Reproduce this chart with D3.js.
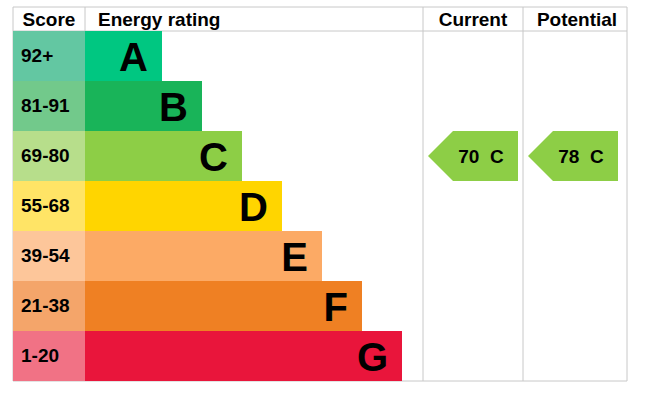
<!DOCTYPE html><html><head><script src="https://cdn.jsdelivr.net/npm/d3@7"></script>
<style>body{margin:0;background:#fff}</style></head><body><svg width="661" height="419"></svg>
<script>
const bands=["A","B","C","D","E","F","G"];
const scores=["92+","81-91","69-80","55-68","39-54","21-38","1-20"];
const barEnds=[1,2,3,4,5,6,7];
const colors=["#00c781","#19b459","#8dce46","#ffd500","#fcaa65","#ef8023","#e9153b"];
const light=["#63c7a2","#72c98b","#b7de8b","#ffe466","#fdc69a","#f4a56a","#f17285"];
const current={value:70,band:"C"}, potential={value:78,band:"C"};
const svg=d3.select("svg");
const y=d3.scaleBand().domain(bands).range([31,381]);
const x=d3.scaleLinear().domain([1,7]).range([162,402]);
const F="Liberation Sans, Arial, sans-serif";
const g="#c8c8c8";
[[13,7,627,7],[13,31,627,31],[13,381,627,381],[13,7,13,381],[85,7,85,31],[423,7,423,381],[523,7,523,381],[627,7,627,381]].forEach(l=>svg.append("line").attr("x1",l[0]).attr("y1",l[1]).attr("x2",l[2]).attr("y2",l[3]).attr("stroke",g).attr("stroke-width",1));
const hdr=[["Score",49],["Energy rating",162],["Current",473],["Potential",577]];
hdr.forEach((h,i)=>svg.append("text").attr("x",i==1?98:h[1]).attr("y",26).attr("text-anchor",i==1?"start":"middle").attr("font-family",F).attr("font-weight","bold").attr("font-size",19).text(h[0]));
bands.forEach((b,i)=>{
  svg.append("rect").attr("x",13).attr("y",y(b)).attr("width",72).attr("height",y.bandwidth()).attr("fill",light[i]);
  svg.append("rect").attr("x",85).attr("y",y(b)).attr("width",x(barEnds[i])-85).attr("height",y.bandwidth()).attr("fill",colors[i]);
  svg.append("text").attr("x",21).attr("y",y(b)+31).attr("font-family",F).attr("font-weight","bold").attr("font-size",19).text(scores[i]);
  svg.append("text").attr("x",x(barEnds[i])-14).attr("y",y(b)+40).attr("text-anchor","end").attr("font-family",F).attr("font-weight","bold").attr("font-size",40).text(b);
});
function arrow(d,x0){
  const t=y(d.band),h=y.bandwidth();
  svg.append("path").attr("d",`M${x0},${t+h/2}L${x0+25},${t}L${x0+90},${t}L${x0+90},${t+h}L${x0+25},${t+h}Z`).attr("fill",colors[bands.indexOf(d.band)]);
  svg.append("text").attr("x",x0+53).attr("y",t+32).attr("text-anchor","middle").attr("font-family",F).attr("font-weight","bold").attr("font-size",19).attr("xml:space","preserve").text(d.value+"  "+d.band);
}
arrow(current,428);arrow(potential,528);
</script></body></html>
